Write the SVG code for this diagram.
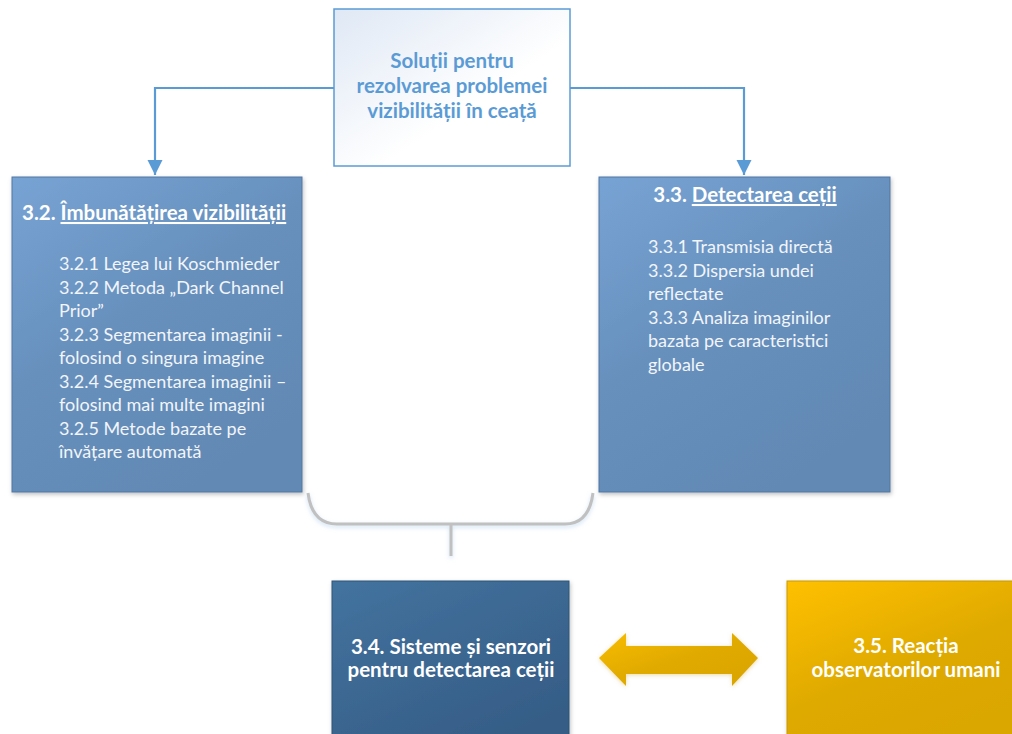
<svg xmlns="http://www.w3.org/2000/svg" width="1012" height="734" viewBox="0 0 1012 734">
<defs>
<style>
.t{font-family:Lato,"Open Sans","Liberation Sans",sans-serif;}
.w{fill:#ffffff;}
.list{font-size:18px;fill:#f2f5fa;}
.head{font-size:20.5px;font-weight:bold;}
.conn{fill:none;stroke:#5b9bd5;stroke-width:2.2;}
</style>
<linearGradient id="gTop" x1="0" y1="0" x2="1" y2="1">
<stop offset="0" stop-color="#dfe8f5"/>
<stop offset="0.6" stop-color="#ffffff"/>
</linearGradient>
<linearGradient id="gMid" x1="0" y1="0" x2="0.6" y2="1">
<stop offset="0" stop-color="#77a3d4"/>
<stop offset="0.5" stop-color="#6790bd"/>
<stop offset="1" stop-color="#6289b4"/>
</linearGradient>
<linearGradient id="gDark" x1="0" y1="0" x2="0.7" y2="1">
<stop offset="0" stop-color="#43739f"/>
<stop offset="1" stop-color="#355d86"/>
</linearGradient>
<linearGradient id="gGold" x1="0" y1="0" x2="0.6" y2="1">
<stop offset="0" stop-color="#ffc000"/>
<stop offset="0.6" stop-color="#dfaa00"/>
<stop offset="1" stop-color="#daa600"/>
</linearGradient>
<linearGradient id="gArrow" x1="0" y1="0" x2="1" y2="1">
<stop offset="0" stop-color="#f8bc00"/>
<stop offset="0.5" stop-color="#e0aa00"/>
<stop offset="1" stop-color="#d9a400"/>
</linearGradient>
<filter id="sh" x="-10%" y="-10%" width="120%" height="120%">
<feDropShadow dx="1" dy="2" stdDeviation="2" flood-color="#000000" flood-opacity="0.25"/>
</filter>
<filter id="glow" x="-10%" y="-20%" width="120%" height="140%">
<feDropShadow dx="0" dy="1" stdDeviation="2" flood-color="#c09000" flood-opacity="0.35"/>
</filter>
<filter id="bsh" x="-10%" y="-20%" width="120%" height="140%">
<feDropShadow dx="0" dy="2" stdDeviation="2" flood-color="#9dc3e6" flood-opacity="0.5"/>
</filter>
<marker id="arr" viewBox="0 0 10 10" refX="10" refY="5" markerWidth="7" markerHeight="7" markerUnits="strokeWidth" orient="auto">
<path d="M0,0 L10,5 L0,10 z" fill="#5b9bd5"/>
</marker>
</defs>

<g id="connectors">
<path class="conn" d="M334,88 H155 V175" marker-end="url(#arr)"/>
<path class="conn" d="M570,88 H744 V175" marker-end="url(#arr)"/>
<path d="M308,493 Q312,524 337,524 H565 Q589,524 593,493 M451,524 V556" fill="none" stroke="#c0c0c0" stroke-width="3" filter="url(#bsh)"/>
<path id="dblarrow" d="M599,658 L626,633 V646 H732 V633 L758,658 L732,686 V674 H626 V686 Z" fill="url(#gArrow)" filter="url(#glow)"/>
</g>

<g id="node-top">
<rect x="334" y="9" width="236" height="157" fill="url(#gTop)" stroke="#5b9bd5" stroke-width="1.5"/>
<text class="t head" fill="#5b9bd5" text-anchor="middle" x="452"><tspan x="452" y="68">Soluții pentru</tspan><tspan x="452" y="93">rezolvarea problemei</tspan><tspan x="452" y="118">vizibilității în ceață</tspan></text>
</g>

<g id="node-32">
<rect x="12" y="177" width="290" height="315" fill="url(#gMid)" stroke="#4f77a3" stroke-width="1" filter="url(#sh)"/>
<text class="t head w" x="22" y="220">3.2. <tspan text-decoration="underline">Îmbunătățirea vizibilității</tspan></text>
<text class="t list">
<tspan x="59" y="270">3.2.1 Legea lui Koschmieder</tspan>
<tspan x="59" y="293.5">3.2.2 Metoda „Dark Channel</tspan>
<tspan x="59" y="317">Prior”</tspan>
<tspan x="59" y="340.5">3.2.3 Segmentarea imaginii -</tspan>
<tspan x="59" y="364">folosind o singura imagine</tspan>
<tspan x="59" y="387.5">3.2.4 Segmentarea imaginii –</tspan>
<tspan x="59" y="411">folosind mai multe imagini</tspan>
<tspan x="59" y="434.5">3.2.5 Metode bazate pe</tspan>
<tspan x="59" y="458">învățare automată</tspan>
</text>
</g>

<g id="node-33">
<rect x="599" y="177" width="291" height="315" fill="url(#gMid)" stroke="#4f77a3" stroke-width="1" filter="url(#sh)"/>
<text class="t head w" x="745" y="202" text-anchor="middle">3.3. <tspan text-decoration="underline">Detectarea ceții</tspan></text>
<text class="t list">
<tspan x="648" y="253">3.3.1 Transmisia directă</tspan>
<tspan x="648" y="276.5">3.3.2 Dispersia undei</tspan>
<tspan x="648" y="300">reflectate</tspan>
<tspan x="648" y="323.5">3.3.3 Analiza imaginilor</tspan>
<tspan x="648" y="347">bazata pe caracteristici</tspan>
<tspan x="648" y="370.5">globale</tspan>
</text>
</g>

<g id="node-34">
<rect x="332" y="581" width="237" height="160" fill="url(#gDark)" stroke="#2f5477" stroke-width="1" filter="url(#sh)"/>
<text class="t head w" text-anchor="middle"><tspan x="451" y="654">3.4. Sisteme și senzori</tspan><tspan x="451" y="677">pentru detectarea ceții</tspan></text>
</g>

<g id="node-35">
<rect x="787" y="581" width="232" height="160" fill="url(#gGold)" stroke="#c89a00" stroke-width="1" filter="url(#sh)"/>
<text class="t head w" text-anchor="middle"><tspan x="906" y="653">3.5. Reacția</tspan><tspan x="906" y="677">observatorilor umani</tspan></text>
</g>
</svg>
